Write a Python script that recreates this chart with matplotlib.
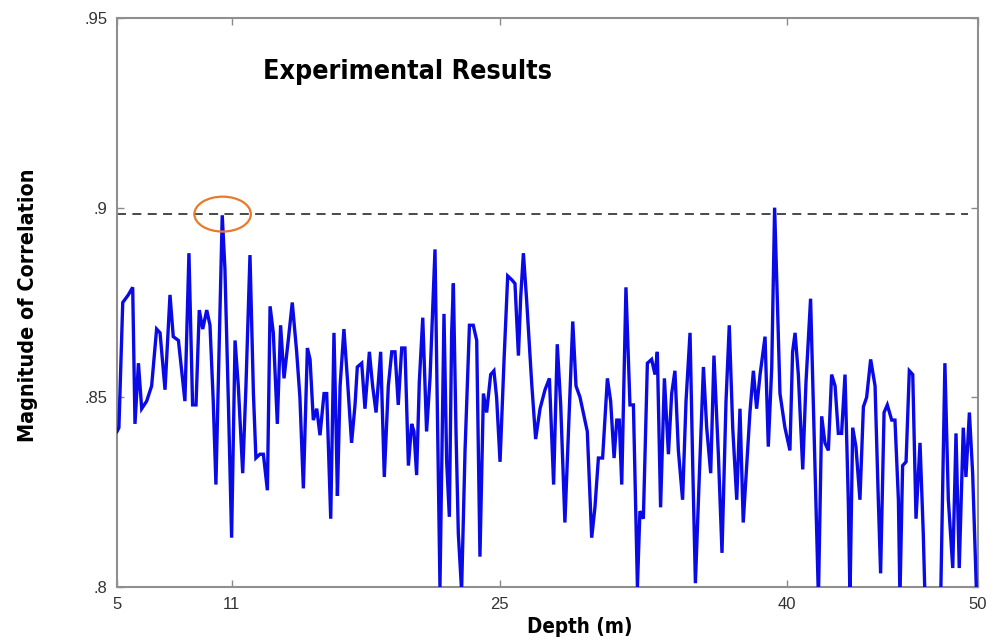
import matplotlib
matplotlib.use("Agg")
import matplotlib.pyplot as plt
from matplotlib.patches import Ellipse
from matplotlib import font_manager
from matplotlib.font_manager import FontProperties

# ---------------- data ----------------
depth = [5.00, 5.10, 5.30, 5.59, 5.82, 5.94, 6.12, 6.29, 6.55, 6.81, 7.07, 7.25, 7.51, 7.77,
         7.94, 8.21, 8.55, 8.76, 8.95, 9.13, 9.30, 9.48, 9.69, 9.86, 10.03, 10.17, 10.50,
         10.64, 10.82, 10.99, 11.17, 11.34, 11.57, 11.74, 11.95, 12.13, 12.26, 12.47, 12.65,
         12.86, 13.00, 13.17, 13.38, 13.55, 13.73, 13.95, 14.16, 14.39, 14.56, 14.74, 14.95,
         15.09, 15.26, 15.44, 15.61, 15.82, 15.96, 16.17, 16.34,
         16.45, 16.52, 16.66, 16.86, 17.04, 17.26, 17.44, 17.56, 17.79, 17.96, 18.19, 18.36,
         18.54, 18.78, 18.97, 19.18, 19.36, 19.53, 19.70, 19.88, 20.05, 20.23, 20.40, 20.52,
         20.66, 20.80, 20.98, 21.18, 21.36, 21.62, 21.79, 21.88, 22.09,
         22.23, 22.37, 22.49, 22.58, 22.72, 22.84, 23.01, 23.19, 23.42, 23.62, 23.80, 23.97,
         24.15, 24.32, 24.53, 24.70, 24.84, 25.02, 25.23, 25.42, 25.63, 25.80, 25.98, 26.10,
         26.24, 26.41, 26.67, 26.88, 27.11, 27.37, 27.60, 27.82,
         28.01, 28.19, 28.41, 28.59, 28.82, 28.99, 29.20, 29.37, 29.58, 29.81, 29.98, 30.16,
         30.38, 30.63, 30.80, 30.98, 31.12, 31.25, 31.38, 31.60, 31.81, 31.99, 32.20, 32.33,
         32.51, 32.72, 32.94, 33.12, 33.24, 33.41, 33.61,
         33.82, 33.99, 34.16, 34.34, 34.56, 34.74, 34.95, 35.09, 35.23, 35.44, 35.65, 35.82,
         36.03, 36.20, 36.43, 36.62, 36.83, 37.00, 37.18, 37.39, 37.56, 37.73, 37.91, 38.08,
         38.26, 38.43, 38.61, 38.87, 39.04, 39.22, 39.37,
         39.51, 39.65, 39.91, 40.17, 40.31, 40.44, 40.61, 40.84, 41.01, 41.25, 41.39, 41.53,
         41.66, 41.83, 42.00, 42.18, 42.35, 42.53, 42.70, 42.87, 43.05, 43.22, 43.31, 43.45,
         43.62, 43.83, 44.01, 44.18, 44.39, 44.62, 44.79, 44.91, 45.09,
         45.26, 45.49, 45.66, 45.84, 45.92, 46.06, 46.24, 46.41, 46.59, 46.76, 46.97, 47.14,
         47.23, 47.67, 48.05, 48.27, 48.45, 48.68, 48.85, 49.02, 49.23, 49.37, 49.55, 49.72,
         49.93, 50.00]
correlation = [0.841, 0.842, 0.875, 0.877, 0.879, 0.843, 0.859, 0.847, 0.849, 0.853, 0.868, 0.867, 0.852, 0.877,
               0.866, 0.865, 0.849, 0.888, 0.848, 0.848, 0.873, 0.868, 0.873, 0.869, 0.849, 0.827, 0.898,
               0.884, 0.849, 0.813, 0.865, 0.853, 0.830, 0.853, 0.8875, 0.851, 0.834, 0.835, 0.835,
               0.8255, 0.874, 0.867, 0.843, 0.869, 0.855, 0.865, 0.875, 0.862, 0.850, 0.826, 0.863,
               0.860, 0.844, 0.847, 0.840, 0.851, 0.851, 0.818, 0.867,
               0.842, 0.824, 0.853, 0.868, 0.855, 0.838, 0.848, 0.858, 0.859, 0.847, 0.862, 0.853,
               0.846, 0.862, 0.829, 0.853, 0.862, 0.862, 0.848, 0.863, 0.863, 0.832, 0.843, 0.841,
               0.8295, 0.854, 0.871, 0.841, 0.855, 0.889, 0.832, 0.800, 0.872,
               0.833, 0.8185, 0.867, 0.880, 0.8405, 0.814, 0.799, 0.836, 0.869, 0.869, 0.865, 0.808,
               0.851, 0.846, 0.856, 0.857, 0.850, 0.833, 0.860, 0.882, 0.881, 0.880, 0.861, 0.8765,
               0.888, 0.8756, 0.854, 0.839, 0.847, 0.852, 0.855, 0.827,
               0.864, 0.848, 0.817, 0.8405, 0.870, 0.853, 0.850, 0.846, 0.841, 0.813, 0.821, 0.834,
               0.834, 0.855, 0.849, 0.834, 0.844, 0.844, 0.827, 0.879, 0.848, 0.848, 0.800, 0.820,
               0.818, 0.859, 0.860, 0.856, 0.862, 0.821, 0.855,
               0.835, 0.851, 0.857, 0.836, 0.823, 0.849, 0.867, 0.832, 0.801, 0.830, 0.858, 0.842,
               0.830, 0.861, 0.835, 0.809, 0.849, 0.869, 0.842, 0.823, 0.847, 0.817, 0.832, 0.846,
               0.857, 0.847, 0.856, 0.866, 0.837, 0.858, 0.900,
               0.876, 0.851, 0.842, 0.836, 0.862, 0.867, 0.856, 0.831, 0.854, 0.876, 0.849, 0.823,
               0.797, 0.845, 0.838, 0.836, 0.856, 0.853, 0.8405, 0.8405, 0.856, 0.823, 0.797, 0.842,
               0.837, 0.823, 0.8475, 0.850, 0.860, 0.853, 0.823, 0.8036, 0.846,
               0.848, 0.844, 0.844, 0.823, 0.797, 0.832, 0.833, 0.857, 0.856, 0.818, 0.838, 0.814,
               0.797, 0.790, 0.797, 0.859, 0.823, 0.805, 0.8405, 0.805, 0.842, 0.829, 0.846, 0.830,
               0.797, 0.798]

threshold = 0.8983
peak_depth = 10.52
x_ticks = [5, 11, 25, 40, 50]
x_ticklabels = ["5", "11", "25", "40", "50"]
y_ticks = [0.80, 0.85, 0.90, 0.95]
y_ticklabels = [".8", ".85", ".9", ".95"]
title_text = "Experimental Results"
x_label = "Depth (m)"
y_label = "Magnitude of Correlation"

# ---------------- fonts ----------------
regular = "Liberation Sans"
cond_file = None
for f in font_manager.fontManager.ttflist:
    fn = f.fname.lower()
    if ("narrow" in fn or "condensed" in fn) and "bold" in fn and "oblique" not in fn \
            and "italic" not in fn and ("liberation" in fn or "dejavusans" in fn):
        if cond_file is None or "liberation" in fn:
            cond_file = f.fname


def bold_font(size):
    if cond_file:
        return FontProperties(fname=cond_file, size=size)
    return FontProperties(family=regular, weight="bold", size=size)


cond = cond_file is not None

# ---------------- figure ----------------
fig = plt.figure(figsize=(9.95, 6.41), dpi=100)
ax = fig.add_axes([117/995, 54/641, 861/995, 569/641])

ax.plot(depth, correlation, color="#0A0AE6", linewidth=2.4, solid_joinstyle="miter", zorder=3)
ax.plot([5, 49.5], [threshold, threshold], color="#3a3a3a", linewidth=1.3,
        dashes=(5, 3.5), zorder=2)
ax.add_patch(Ellipse((peak_depth, threshold), width=2.95, height=0.0092,
                     fill=False, edgecolor="#E87A2C", linewidth=1.6, zorder=4))

ax.set_xlim(5, 50)
ax.set_ylim(0.80, 0.95)
ax.set_xticks(x_ticks)
ax.set_xticklabels(x_ticklabels)
ax.set_yticks(y_ticks)
ax.set_yticklabels(y_ticklabels)
ax.tick_params(direction="in", length=5, width=1, color="#8a8a8a",
               top=True, right=True, labelsize=12, labelcolor="#333333", pad=7)
for lab in ax.get_xticklabels() + ax.get_yticklabels():
    lab.set_fontfamily(regular)
for s in ax.spines.values():
    s.set_color("#8f8f8f")
    s.set_linewidth(1.5)

ax.text(0.169, 0.905, title_text, transform=ax.transAxes, ha="left", va="center",
        fontproperties=bold_font(19.3 if cond else 20.5), color="black")

fig.text(28/995, 1 - 305/641, y_label, rotation=90, ha="center", va="center",
         fontproperties=bold_font(15.4 if cond else 16), color="black")
fig.text(580/995, 1 - 627/641, x_label, ha="center", va="center",
         fontproperties=bold_font(14.8 if cond else 16), color="black")

fig.savefig("out.png", dpi=100)
